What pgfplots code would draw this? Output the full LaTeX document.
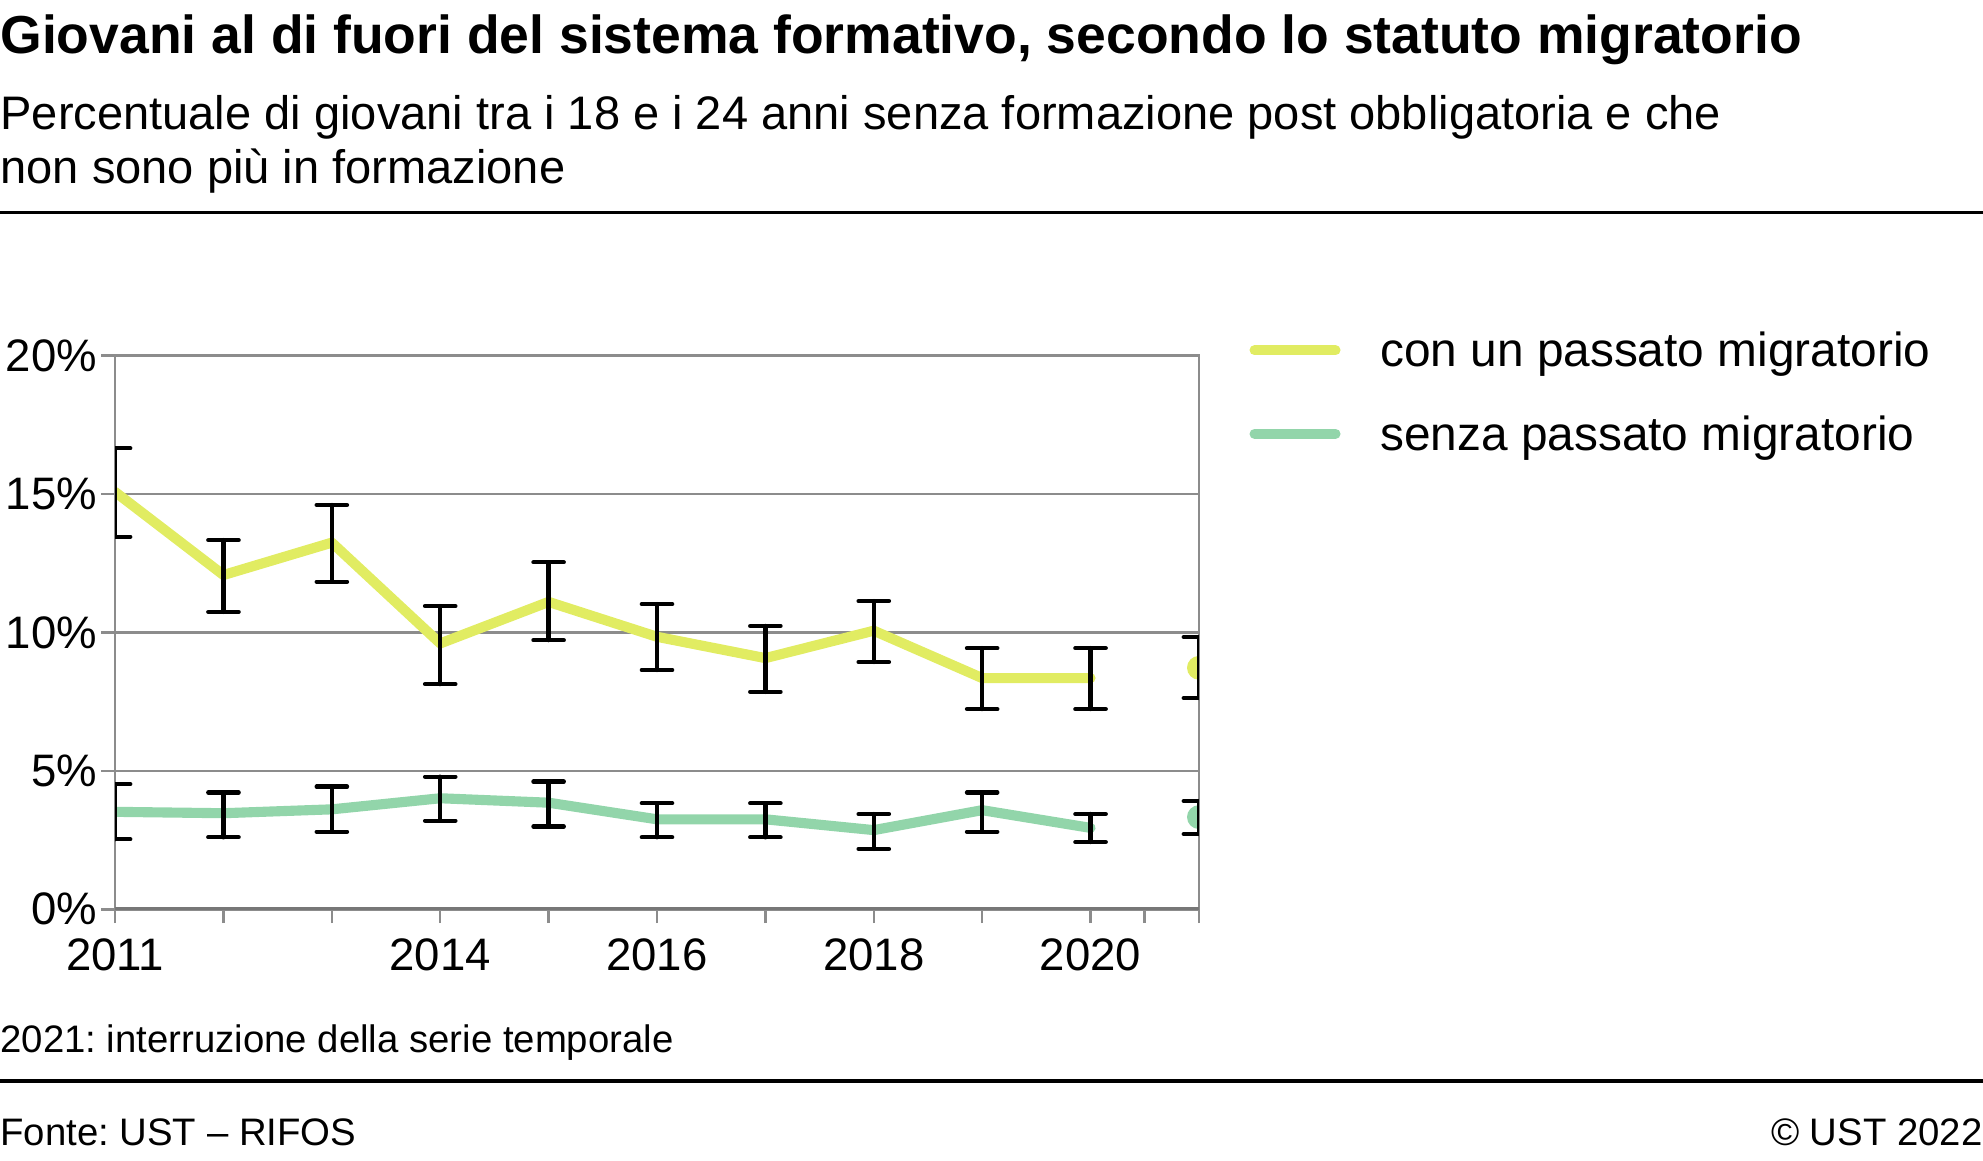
\documentclass[border=0pt]{standalone}
\usepackage{fontspec}
\setmainfont{Liberation Sans}
\usepackage{pgfplots}
\pgfplotsset{compat=1.18}
\usepackage{pgfplotstable}
\frenchspacing

\definecolor{migr}{HTML}{E1EC62}
\definecolor{nomigr}{HTML}{92D5AA}
\definecolor{gridgray}{HTML}{8C8C8C}

% con un passato migratorio: value, error plus, error minus
\pgfplotstableread{
x    y     ep    em
2011 15.07 1.58  1.62
2012 12.07 1.26  1.33
2013 13.24 1.36  1.41
2014 9.60  1.35  1.47
2015 11.10 1.43  1.38
2016 9.84  1.18  1.20
2017 9.07  1.16  1.22
2018 10.06 1.07  1.13
2019 8.35  1.08  1.12
2020 8.35  1.08  1.12
2021 8.72  1.11  1.09
}\tabmig

% senza passato migratorio
\pgfplotstableread{
x    y     ep    em
2011 3.52  1.00  0.99
2012 3.47  0.75  0.87
2013 3.61  0.82  0.81
2014 4.01  0.78  0.81
2015 3.85  0.76  0.86
2016 3.25  0.58  0.65
2017 3.25  0.58  0.65
2018 2.86  0.58  0.68
2019 3.58  0.64  0.78
2020 2.94  0.50  0.51
2021 3.33  0.58  0.61
}\tabnon

\pgfplotsset{
  ebars/.style={draw=none, mark=none, forget plot,
    error bars/.cd, y dir=both, y explicit,
    error bar style={draw=black, line width=1.7pt, line cap=round},
    error mark options={draw=black, rotate=90, mark size=6pt, line width=1.7pt, line cap=round}},
}

\begin{document}
\begin{tikzpicture}
\useasboundingbox (0,0) rectangle (784pt,-459pt);

\node[anchor=base west, inner sep=0pt, font=\bfseries\fontsize{21.15}{24}\selectfont] at (0,-21pt)
  {Giovani al di fuori del sistema formativo, secondo lo statuto migratorio};
\node[anchor=base west, inner sep=0pt, font=\fontsize{18.6}{20}\selectfont] at (0,-51pt)
  {Percentuale di giovani tra i 18 e i 24 anni senza formazione post obbligatoria e che};
\node[anchor=base west, inner sep=0pt, font=\fontsize{18.6}{20}\selectfont] at (0,-72.5pt)
  {non sono più in formazione};
\draw[line width=1.5pt] (0,-84pt) -- (784pt,-84pt);

\begin{axis}[
  at={(45.5pt,-359.5pt)}, anchor=south west,
  scale only axis, width=428.5pt, height=219pt,
  xmin=2011, xmax=2021, ymin=0, ymax=20,
  clip mode=global, clip marker paths=true,
  axis line style={gridgray, line width=1pt},
  tick style={gridgray, line width=1pt},
  tick align=outside, major tick length=5.5pt,
  xtick={2011,2012,2013,2014,2015,2016,2017,2018,2019,2020,2020.5,2021},
  xticklabels={2011,,,2014,,2016,,2018,,2020,,},
  ytick={0,5,10,15,20},
  yticklabels={0\%,5\%,10\%,15\%,20\%},
  xtick pos=bottom, ytick pos=left,
  ymajorgrids, major grid style={gridgray, line width=1pt},
  /pgf/number format/assume math mode=true,
  ticklabel style={font=\fontsize{18}{18}\selectfont, inner sep=0pt},
  xticklabel style={anchor=north, yshift=-6pt},
  yticklabel style={anchor=east, xshift=-1.5pt},
]
\addplot[migr, line width=4pt, line cap=round, line join=round, restrict x to domain=2011:2020]
  table[x=x, y=y] {\tabmig};
\addplot[nomigr, line width=4pt, line cap=round, line join=round, restrict x to domain=2011:2020]
  table[x=x, y=y] {\tabnon};
\addplot[only marks, mark=*, mark size=4.5pt, color=migr, restrict x to domain=2021:2021]
  table[x=x, y=y] {\tabmig};
\addplot[only marks, mark=*, mark size=4.5pt, color=nomigr, restrict x to domain=2021:2021]
  table[x=x, y=y] {\tabnon};
\addplot[ebars] table[x=x, y=y, y error plus=ep, y error minus=em] {\tabmig};
\addplot[ebars] table[x=x, y=y, y error plus=ep, y error minus=em] {\tabnon};
\draw[gridgray!85!black, line width=2pt] (rel axis cs:0,0) -- (rel axis cs:1,0);
\end{axis}

% legend
\draw[migr, line width=4pt, line cap=round] (496pt,-138.5pt) -- (528pt,-138.5pt);
\node[anchor=base west, inner sep=0pt, font=\fontsize{18.9}{20}\selectfont] at (545.5pt,-145pt) {con un passato migratorio};
\draw[nomigr, line width=4pt, line cap=round] (496pt,-171.5pt) -- (528pt,-171.5pt);
\node[anchor=base west, inner sep=0pt, font=\fontsize{18.9}{20}\selectfont] at (545.5pt,-178pt) {senza passato migratorio};

\node[anchor=base west, inner sep=0pt, font=\fontsize{15.15}{18}\selectfont] at (0,-416pt)
  {2021: interruzione della serie temporale};
\draw[line width=1.5pt] (0,-427.5pt) -- (784pt,-427.5pt);
\node[anchor=base west, inner sep=0pt, font=\fontsize{15.15}{18}\selectfont] at (0,-453pt)
  {Fonte: UST – RIFOS};
\node[anchor=base east, inner sep=0pt, font=\fontsize{15.15}{18}\selectfont] at (784pt,-453pt)
  {© UST 2022};
\end{tikzpicture}
\end{document}
